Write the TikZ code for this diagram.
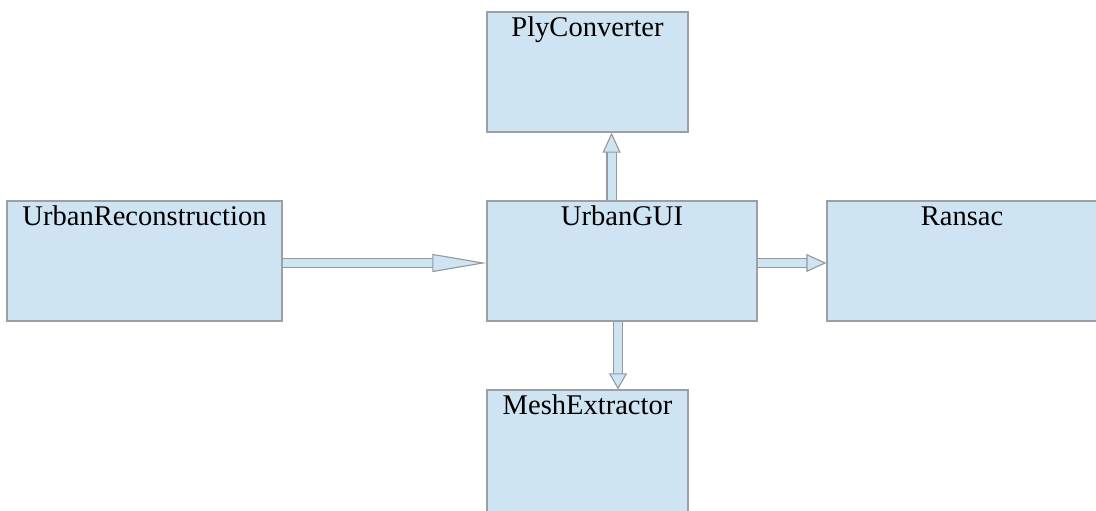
\documentclass[tikz,border=0pt]{standalone}
\usepackage{fontspec}
\setmainfont{Liberation Serif}
\usetikzlibrary{arrows.meta}
\definecolor{boxblue}{RGB}{207,228,242}
\definecolor{boxline}{RGB}{155,160,166}
\definecolor{arrowline}{RGB}{148,154,160}
\newcommand{\modfont}{\fontsize{20.3}{24}\selectfont}
\tikzset{
  module/.style={draw=boxline, fill=boxblue, line width=0.9pt, inner sep=0pt,
    minimum height=3cm,
    label={[anchor=base, label distance=-0.63cm, font=\modfont]north:#1}},
  linkarrow/.style={draw=arrowline, line width=0.8pt, double=boxblue,
    double distance=0.2cm,
    -{Triangle[length=#1, width=0.45cm, fill=boxblue, line width=0.8pt]}},
  linkarrow/.default=0.5cm
}
\begin{document}
\begin{tikzpicture}
% Page
\useasboundingbox (0,0) rectangle (27.4,12.75);
\clip (0,0) rectangle (27.4,12.75);
% Modules
\node[module=PlyConverter, minimum width=5.025cm] (ply) at (14.6875,10.95) {};
\node[module=UrbanReconstruction, minimum width=6.875cm] (recon) at (3.6125,6.225) {};
\node[module=UrbanGUI, minimum width=6.75cm] (gui) at (15.55,6.225) {};
\node[module=Ransac, minimum width=6.75cm] (ransac) at (24.05,6.225) {};
\node[module=MeshExtractor, minimum width=5.025cm, minimum height=3.1cm] (mesh) at (14.6875,1.45) {};
% Arrow starts
\coordinate (reconout) at ([yshift=-0.05cm]recon.east);
\coordinate (guiright) at ([yshift=-0.05cm]gui.east);
\coordinate (guiup) at ([xshift=-0.26cm]gui.north);
\coordinate (guidown) at ([xshift=-0.1cm]gui.south);
% Arrows
\draw[linkarrow=1.35cm] (reconout) -- (reconout -| gui.west);
\draw[linkarrow] (guiup) -- (guiup |- ply.south);
\draw[linkarrow] (guiright) -- (guiright -| ransac.west);
\draw[linkarrow=0.4cm] (guidown) -- (guidown |- mesh.north);
\end{tikzpicture}
\end{document}
